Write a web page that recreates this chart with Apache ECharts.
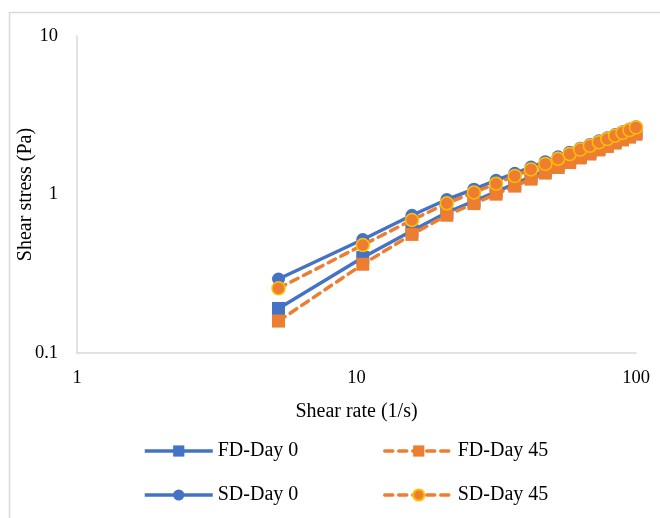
<!DOCTYPE html>
<html>
<head>
<meta charset="utf-8">
<script src="https://cdn.jsdelivr.net/npm/echarts@6/dist/echarts.min.js"></script>
<style>
  html, body { margin: 0; padding: 0; background: #fff; }
  #chart { width: 660px; height: 518px; }
</style>
</head>
<body>
<div id="chart"></div>
<script>
// Data
const shearRate = [5.26, 10.53, 15.79, 21.05, 26.32, 31.58, 36.84, 42.11, 47.37, 52.63, 57.89, 63.16, 68.42, 73.68, 78.95, 84.21, 89.47, 94.74, 100];
const fdDay0  = [0.191, 0.40, 0.59, 0.77, 0.91, 1.04, 1.17, 1.29, 1.41, 1.52, 1.63, 1.74, 1.85, 1.95, 2.06, 2.16, 2.26, 2.35, 2.45];
const fdDay45 = [0.159, 0.363, 0.56, 0.74, 0.876, 1.005, 1.13, 1.25, 1.365, 1.48, 1.59, 1.70, 1.80, 1.91, 2.01, 2.11, 2.21, 2.30, 2.40];
const sdDay0  = [0.293, 0.52, 0.74, 0.93, 1.08, 1.23, 1.36, 1.49, 1.61, 1.73, 1.85, 1.96, 2.07, 2.18, 2.28, 2.39, 2.49, 2.59, 2.68];
const sdDay45 = [0.256, 0.48, 0.69, 0.88, 1.03, 1.17, 1.31, 1.44, 1.56, 1.68, 1.80, 1.92, 2.03, 2.14, 2.24, 2.35, 2.45, 2.55, 2.65];
const xTicks = [1, 10, 100];
const yTicks = [0.1, 1, 10];

const BLUE = '#4472C4', ORANGE = '#ED7D31', GOLD = '#FFC000';
const FONT = '"Liberation Serif", "Times New Roman", serif';
const pair = (ys) => shearRate.map((x, i) => [x, ys[i]]);

const chart = echarts.init(document.getElementById('chart'), null, { renderer: 'canvas' });

function legendAt(name, left, top) {
  return {
    data: [name], left: left, top: top, padding: 0,
    itemWidth: 68, itemHeight: 14, itemGap: 6,
    lineStyle: { width: 3.5 },
    textStyle: { fontFamily: FONT, fontSize: 20, color: '#000' }
  };
}

chart.setOption({
  animation: false,
  backgroundColor: '#fff',
  graphic: [{
    type: 'rect', left: 7, top: 10,
    shape: { width: 700, height: 600 },
    style: { fill: 'none', stroke: '#D9D9D9', lineWidth: 1.5 },
    silent: true
  }],
  grid: { left: 77, right: 24, top: 36, bottom: 165, containLabel: false },
  legend: [
    legendAt('FD-Day 0', 143, 441),
    legendAt('FD-Day 45', 383, 441),
    legendAt('SD-Day 0', 143, 485),
    legendAt('SD-Day 45', 383, 485)
  ],
  xAxis: {
    type: 'log', logBase: 10, min: xTicks[0], max: xTicks[xTicks.length - 1],
    name: 'Shear rate (1/s)', nameLocation: 'middle', nameGap: 49,
    nameTextStyle: { fontFamily: FONT, fontSize: 20, color: '#000' },
    axisLine: { lineStyle: { color: '#D9D9D9', width: 1.5 } },
    axisTick: { show: false },
    splitLine: { show: false },
    axisLabel: { fontFamily: FONT, fontSize: 18.5, color: '#000', margin: 16,
      formatter: (v) => String(+v.toPrecision(3)) }
  },
  yAxis: {
    type: 'log', logBase: 10, min: yTicks[0], max: yTicks[yTicks.length - 1],
    name: 'Shear stress (Pa)', nameLocation: 'middle', nameGap: 41,
    nameMoveOverlap: false,
    nameTextStyle: { fontFamily: FONT, fontSize: 20, color: '#000' },
    axisLine: { show: true, lineStyle: { color: '#D9D9D9', width: 1.5 } },
    axisTick: { show: false },
    splitLine: { show: false },
    axisLabel: { fontFamily: FONT, fontSize: 18.5, color: '#000', margin: 19,
      formatter: (v) => String(+v.toPrecision(3)) }
  },
  series: [
    {
      name: 'FD-Day 0', type: 'line', data: pair(fdDay0), z: 2,
      symbol: 'rect', symbolSize: 13, showAllSymbol: true,
      lineStyle: { color: BLUE, width: 3.5 },
      itemStyle: { color: BLUE }
    },
    {
      name: 'SD-Day 0', type: 'line', data: pair(sdDay0), z: 3,
      symbol: 'circle', symbolSize: 13, showAllSymbol: true,
      lineStyle: { color: BLUE, width: 3.5 },
      itemStyle: { color: BLUE }
    },
    {
      name: 'FD-Day 45', type: 'line', data: pair(fdDay45), z: 4,
      symbol: 'rect', symbolSize: 13, showAllSymbol: true,
      lineStyle: { color: ORANGE, width: 3.5, type: [8, 6], cap: 'round' },
      itemStyle: { color: ORANGE }
    },
    {
      name: 'SD-Day 45', type: 'line', data: pair(sdDay45), z: 5,
      symbol: 'circle', symbolSize: 13, showAllSymbol: true,
      lineStyle: { color: ORANGE, width: 3.5, type: [8, 6], cap: 'round' },
      itemStyle: { color: ORANGE, borderColor: GOLD, borderWidth: 1.5 }
    }
  ]
});
</script>
</body>
</html>
